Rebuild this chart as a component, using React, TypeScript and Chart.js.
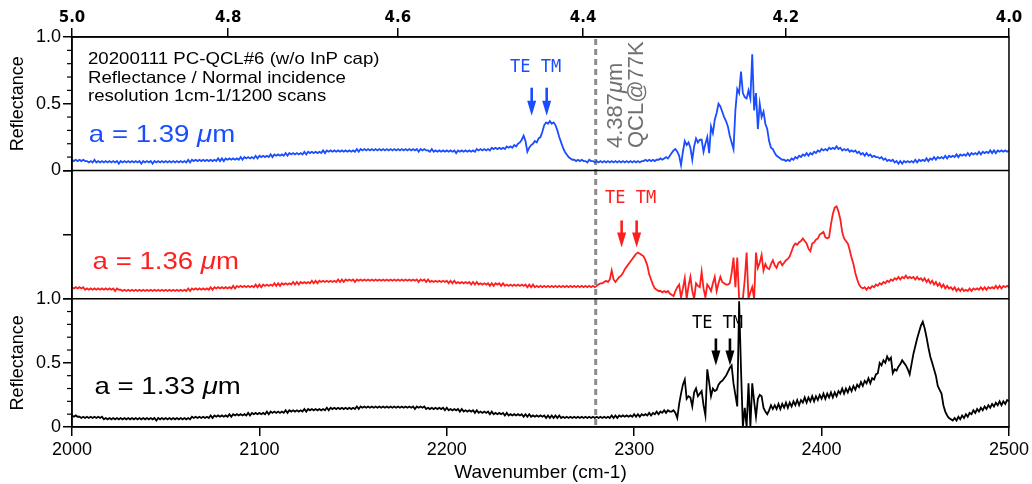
import React, { useEffect, useRef } from 'react';
import { Chart, registerables } from 'chart.js';

Chart.register(...registerables);

// Spectra sampled every 1 cm-1 from 2000 cm-1; values are reflectance in percent.
const WN_START = 2000;
const WN_STEP = 1;

// a = 1.39 um (top panel)
const REFL_139 = [
  8,7,8,7,8,7,8,7,7,6, 7,6,8,6,7,6,7,6,7,6, 7,6,7,6,7,5,7,6,7,6, 7,6,7,6,7,6,7,5,7,6,
  7,6,7,5,7,6,7,6,7,6, 7,6,7,6,7,6,7,6,7,6, 7,6,8,6,8,7,8,7,8,7, 8,7,8,7,8,7,8,7,9,7,
  9,7,9,8,9,8,9,8,9,8, 10,8,10,9,10,9,10,9,11,9, 11,10,11,10,11,10,12,10,12,11, 12,11,12,11,13,11,13,12,13,12,
  13,12,13,12,14,12,14,13,14,13, 14,13,14,13,15,13,15,14,15,14, 15,14,15,14,15,14,15,14,15,14, 15,14,16,14,16,15,16,15,16,15,
  16,15,16,15,16,15,16,15,16,15, 16,15,16,15,16,15,16,15,16,15, 16,15,16,15,16,14,16,15,16,15, 15,14,16,14,15,14,15,14,15,14,
  15,14,15,14,15,13,15,14,15,14, 15,14,15,14,15,14,16,15,16,15, 16,15,16,15,17,16,17,16,17,16, 17,16,18,17,18,17,19,18,20,21,
  23,26,22,14,17,19,20,22,21,24, 25,29,34,36,35,37,35,36,34,30, 25,21,17,14,12,10,9,8,8,7, 8,7,8,7,7,6,8,7,7,6,
  7,6,7,6,7,6,7,6,7,6, 7,6,7,6,7,6,7,6,7,6, 7,6,7,6,7,7,8,7,8,7, 8,7,8,8,9,8,9,10,9,11,
  13,15,16,14,11,4,14,22,19,21, 17,8,18,24,21,23,23,14,20,25, 13,33,28,38,43,50,48,44,40,37, 33,26,21,16,45,61,58,74,58,55,
  54,60,54,87,45,58,31,50,40,44, 35,31,22,17,16,13,11,10,9,8, 8,7,8,7,9,8,10,9,11,10, 12,11,13,11,13,12,14,13,15,14,
  16,15,16,15,17,16,17,16,18,16, 17,15,16,15,16,14,15,14,15,13, 14,12,13,11,13,11,12,10,11,10, 10,9,10,8,9,7,8,7,8,6,
  7,5,7,5,7,6,7,6,7,6, 8,6,8,7,8,7,9,7,9,8, 10,8,10,9,10,9,11,9,11,10, 11,10,12,10,12,11,12,11,13,11,
  13,12,13,12,14,12,14,13,14,13, 15,13,15,13,15,14,15,14,15,14, 15,
];

// a = 1.36 um (middle panel)
const REFL_136 = [
  9,8,9,8,9,8,9,7,8,7, 8,7,8,7,8,7,8,7,8,7, 8,7,8,6,8,7,7,6,7,6, 7,6,7,6,7,6,7,6,7,6,
  7,6,7,6,7,6,7,6,7,6, 7,6,7,6,7,6,7,6,7,6, 7,6,8,6,8,7,8,7,8,7, 8,7,8,7,9,7,9,8,9,8,
  9,8,9,8,9,8,10,8,10,9, 10,9,10,9,10,9,10,9,11,9, 11,9,11,10,11,10,11,10,12,10, 12,10,12,11,12,11,12,11,13,11,
  13,11,13,12,13,12,13,12,14,12, 14,12,14,13,14,13,14,13,14,13, 14,13,15,13,15,13,15,14,15,14, 15,13,15,14,15,14,15,14,15,14,
  15,14,15,14,15,14,15,14,15,14, 15,14,15,14,15,14,15,14,15,14, 15,14,15,14,15,13,15,14,15,13, 15,13,14,13,14,13,14,13,14,13,
  14,12,14,12,14,12,13,12,13,12, 13,12,13,11,13,11,13,11,12,11, 12,11,12,10,12,10,12,11,12,10, 12,10,11,10,11,10,11,10,11,10,
  11,10,11,9,11,9,11,9,10,9, 10,9,10,9,10,9,10,9,10,9, 10,9,10,9,10,9,10,9,10,9, 10,9,10,9,10,9,10,9,10,9,
  10,11,12,12,13,14,13,15,22,15, 13,15,17,18,20,23,25,27,29,31, 33,35,36,35,34,33,30,26,19,15, 11,8,7,6,6,5,6,5,6,4,
  3,2,6,9,11,1,8,16,0,10, 17,6,0,12,10,9,21,8,1,11, 9,6,12,17,6,12,17,13,12,11, 11,12,20,32,9,32,0,0,0,15,
  36,0,5,9,0,36,24,28,34,22, 27,24,23,27,30,26,24,28,29,26, 28,30,31,33,37,41,43,42,44,45, 47,45,43,39,37,43,44,46,47,50,
  51,52,48,47,48,58,66,71,72,68, 62,52,47,45,43,38,32,27,20,15, 11,9,8,9,7,9,8,10,9,11, 10,12,11,13,12,14,13,15,14,16,
  15,17,15,17,16,18,16,17,16,17, 15,17,15,16,14,16,13,15,12,14, 11,13,10,12,9,11,8,10,8,9, 7,9,6,8,6,8,6,7,6,8,
  6,8,7,8,7,9,7,9,7,9, 8,9,8,10,8,10,8,10,9,10, 9,
];

// a = 1.33 um (bottom panel)
const REFL_133 = [
  9,8,9,8,8,7,8,7,8,7, 8,7,8,7,8,7,8,6,7,6, 7,6,7,6,7,6,7,6,7,6, 7,6,7,6,7,6,7,6,7,6,
  7,6,7,6,7,5,7,6,7,6, 7,6,7,6,7,6,7,6,7,6, 7,6,7,6,8,7,8,7,8,7, 8,7,8,7,9,7,9,8,9,8,
  9,8,9,8,10,8,10,9,10,9, 10,9,10,9,11,9,11,10,11,10, 11,10,11,10,12,10,12,11,12,11, 12,11,12,11,13,11,13,12,13,12,
  13,12,13,12,14,12,14,13,14,13, 14,13,14,13,14,13,15,13,15,14, 15,14,15,14,15,14,15,14,15,14, 15,14,16,14,16,15,16,15,16,15,
  16,15,16,15,16,15,16,15,16,15, 16,15,16,15,16,15,16,15,16,15, 16,15,16,14,16,15,16,15,16,14, 15,14,15,14,15,14,15,14,15,13,
  15,13,14,13,14,13,14,12,14,12, 13,12,13,12,13,11,13,11,12,11, 12,11,12,10,12,10,11,10,11,10, 11,9,11,9,10,9,10,9,10,9,
  10,8,10,8,10,8,9,8,9,8, 9,8,9,7,9,7,9,7,9,7, 9,7,8,7,8,7,8,7,8,7, 8,7,8,7,8,7,8,7,8,7,
  8,7,8,7,8,7,8,7,9,7, 9,7,9,8,9,8,9,8,9,8, 10,8,10,8,10,9,10,9,11,9, 11,10,12,10,12,11,13,11,13,12,
  12,13,11,7,18,26,33,37,22,24, 23,16,27,30,24,26,28,17,9,45, 35,24,30,28,29,33,35,36,38,40, 43,46,48,34,25,16,98,45,0,15,
  0,34,0,34,20,8,22,25,24,15, 12,10,13,17,14,17,14,18,14,18, 15,19,15,19,16,20,17,21,17,21, 19,23,19,23,20,24,20,24,21,25,
  22,26,22,26,23,27,23,27,24,28, 26,30,26,30,27,31,28,32,29,33, 31,35,32,36,34,38,34,38,37,41, 42,50,48,52,50,55,52,54,42,45,
  44,47,49,52,50,48,45,41,49,57, 63,69,74,79,82,77,70,62,55,50, 45,40,32,29,26,17,12,9,7,6, 5,7,5,8,6,9,7,10,8,11,
  10,13,11,14,12,15,13,16,14,17, 15,18,16,19,17,20,17,20,18,21, 20,
];

// Top axis: wavelength in micrometres (lambda = 10000 / wavenumber)
const WAVELENGTH_TICKS = [5.0, 4.8, 4.6, 4.4, 4.2, 4.0];
const QCL_WAVELENGTH = 4.387;
const MINOR_TICKS = [0.1, 0.2, 0.3, 0.4, 0.6, 0.7, 0.8, 0.9];

const INFO_LINES = [
  '20200111 PC-QCL#6 (w/o InP cap)',
  'Reflectance / Normal incidence',
  'resolution 1cm-1/1200 scans',
];

const BLUE = '#1a4dff';
const RED = '#ff1e1e';
const BLACK = '#000000';
const GRAY_TEXT = '#707070';
const SANS = '"Liberation Sans", Arial, sans-serif';
const MONO = '"DejaVu Sans Mono", monospace';

type Part = [string, boolean];

const SERIES_NOTES: { axis: string; parts: Part[]; wn: number; v: number; color: string }[] = [
  { axis: 'yTop', parts: [['a = 1.39 ', false], ['\u03bc', true], ['m', false]], wn: 2009, v: 0.263, color: BLUE },
  { axis: 'yMid', parts: [['a = 1.36 ', false], ['\u03bc', true], ['m', false]], wn: 2011, v: 0.287, color: RED },
  { axis: 'yBot', parts: [['a = 1.33 ', false], ['\u03bc', true], ['m', false]], wn: 2012, v: 0.31, color: BLACK },
];

// TE / TM mode markers: label position and arrow wavenumbers, arrow top / tip in reflectance
const MODE_MARKS = [
  { axis: 'yTop', color: BLUE, labelWn: 2233.7, labelV: 0.77, arrows: [2245.3, 2253.3], top: 0.62, tip: 0.41 },
  { axis: 'yMid', color: RED, labelWn: 2284.4, labelV: 0.78, arrows: [2293.3, 2301.3], top: 0.61, tip: 0.4 },
  { axis: 'yBot', color: BLACK, labelWn: 2330.8, labelV: 0.81, arrows: [2343.6, 2351.1], top: 0.69, tip: 0.48 },
];

const toPoints = (pct: number[]) => pct.map((p, i) => ({ x: WN_START + i * WN_STEP, y: p / 100 }));

function drawRich(ctx: CanvasRenderingContext2D, parts: Part[], x: number, y: number, size: number, sx: number) {
  ctx.save();
  ctx.translate(x, y);
  ctx.scale(sx, 1);
  let cx = 0;
  for (const [t, italic] of parts) {
    ctx.font = `${italic ? 'italic ' : ''}${size}px ${SANS}`;
    ctx.fillText(t, cx, 0);
    cx += ctx.measureText(t).width;
  }
  ctx.restore();
}

const decor = {
  id: 'decor',
  beforeDatasetsDraw(chart: any) {
    const { ctx, chartArea, scales } = chart;
    const x = scales.x.getPixelForValue(10000 / QCL_WAVELENGTH);
    ctx.save();
    ctx.strokeStyle = '#8c8c8c';
    ctx.lineWidth = 3;
    ctx.setLineDash([6, 4]);
    ctx.beginPath();
    ctx.moveTo(x, chartArea.top + 2);
    ctx.lineTo(x, chartArea.bottom);
    ctx.stroke();
    ctx.restore();

    // rotated wavelength label beside the dashed line
    ctx.save();
    ctx.fillStyle = GRAY_TEXT;
    ctx.textBaseline = 'alphabetic';
    ctx.translate(x + 26, chartArea.top + 111);
    ctx.rotate(-Math.PI / 2);
    drawRich(ctx, [['4.387', false], ['\u03bc', true], ['m', false]], 0, 0, 22, 1);
    drawRich(ctx, [['QCL@77K', false]], 0, 21, 22, 1);
    ctx.restore();
  },
  afterDatasetsDraw(chart: any) {
    const { ctx, chartArea, scales } = chart;
    const { left, right, top, bottom } = chartArea;
    ctx.save();
    ctx.strokeStyle = '#000';
    ctx.lineWidth = 1.5;
    ctx.strokeRect(left, top, right - left, bottom - top);
    for (const y of [scales.yMid.top, scales.yMid.bottom]) {
      ctx.beginPath();
      ctx.moveTo(left, y);
      ctx.lineTo(right, y);
      ctx.stroke();
    }
    ctx.lineWidth = 1.2;
    for (const id of ['yTop', 'yBot']) {
      for (const v of MINOR_TICKS) {
        const y = scales[id].getPixelForValue(v);
        ctx.beginPath();
        ctx.moveTo(left - 5, y);
        ctx.lineTo(left, y);
        ctx.stroke();
      }
    }

    // sample description
    ctx.fillStyle = '#000';
    ctx.textBaseline = 'middle';
    const infoV = [0.835, 0.692, 0.556];
    INFO_LINES.forEach((line, i) => {
      drawRich(ctx, [[line, false]], scales.x.getPixelForValue(2008.5), scales.yTop.getPixelForValue(infoV[i]), 16.5, 1.13);
    });

    for (const n of SERIES_NOTES) {
      ctx.fillStyle = n.color;
      drawRich(ctx, n.parts, scales.x.getPixelForValue(n.wn), scales[n.axis].getPixelForValue(n.v), 24, 1.15);
    }

    for (const m of MODE_MARKS) {
      const ys = scales[m.axis];
      ctx.fillStyle = m.color;
      ctx.font = `17px ${MONO}`;
      ctx.textBaseline = 'middle';
      ctx.fillText('TE TM', scales.x.getPixelForValue(m.labelWn), ys.getPixelForValue(m.labelV));
      const y0 = ys.getPixelForValue(m.top);
      const y1 = ys.getPixelForValue(m.tip);
      for (const wn of m.arrows) {
        const ax = scales.x.getPixelForValue(wn);
        const headTop = y1 - 15;
        ctx.fillRect(ax - 1.3, y0, 2.6, headTop - y0 + 1);
        ctx.beginPath();
        ctx.moveTo(ax - 4.5, headTop);
        ctx.lineTo(ax + 4.5, headTop);
        ctx.lineTo(ax, y1);
        ctx.closePath();
        ctx.fill();
      }
    }
    ctx.restore();
  },
};

const tickGrid = { drawOnChartArea: false, drawTicks: true, tickLength: 9, color: '#000', lineWidth: 1.5 };
const axisBorder = { display: true, color: '#000', width: 1.5 };

function panelAxis(weight: number, labelled: boolean) {
  return {
    type: 'linear' as const,
    position: 'left' as const,
    stack: 'panels',
    stackWeight: weight,
    min: 0,
    max: 1,
    afterFit: (s: any) => {
      s.width = 72;
    },
    ticks: {
      stepSize: 0.5,
      color: '#000',
      padding: 2,
      font: { family: SANS, size: 18 },
      callback: (v: any) => (labelled ? (v === 0 ? '0' : Number(v).toFixed(1)) : ''),
    },
    grid: tickGrid,
    border: axisBorder,
    title: {
      display: labelled,
      text: 'Reflectance',
      color: '#000',
      font: { family: SANS, size: 18 },
      padding: { top: 7, bottom: 0 },
    },
  };
}

export default function App() {
  const ref = useRef<HTMLCanvasElement>(null);

  useEffect(() => {
    const chart = new Chart(ref.current as HTMLCanvasElement, {
      type: 'line',
      data: {
        datasets: [
          { data: toPoints(REFL_139), borderColor: BLUE, xAxisID: 'x', yAxisID: 'yTop' },
          { data: toPoints(REFL_136), borderColor: RED, xAxisID: 'x', yAxisID: 'yMid' },
          { data: toPoints(REFL_133), borderColor: BLACK, xAxisID: 'x', yAxisID: 'yBot' },
        ],
      },
      options: {
        animation: false,
        responsive: true,
        maintainAspectRatio: false,
        events: [],
        layout: { padding: { left: 0, right: 23, top: 0, bottom: 0 } },
        elements: { point: { radius: 0 }, line: { borderWidth: 1.8, tension: 0 } },
        plugins: { legend: { display: false }, tooltip: { enabled: false } },
        scales: {
          x: {
            type: 'linear',
            position: 'bottom',
            min: 2000,
            max: 2500,
            afterFit: (s: any) => {
              s.height = 57;
            },
            ticks: {
              stepSize: 100,
              color: '#000',
              padding: 3,
              maxRotation: 0,
              font: { family: SANS, size: 18 },
              callback: (v: any) => String(v),
            },
            grid: tickGrid,
            border: axisBorder,
            title: {
              display: true,
              text: 'Wavenumber (cm-1)',
              color: '#000',
              font: { family: SANS, size: 19 },
              padding: { top: 0, bottom: 0 },
            },
          },
          xTop: {
            type: 'linear',
            axis: 'x',
            position: 'top',
            min: 2000,
            max: 2500,
            afterFit: (s: any) => {
              s.height = 37;
            },
            afterBuildTicks: (s: any) => {
              s.ticks = WAVELENGTH_TICKS.map((l) => ({ value: 10000 / l }));
            },
            ticks: {
              color: '#000',
              padding: 1,
              maxRotation: 0,
              autoSkip: false,
              font: { family: '"DejaVu Sans", sans-serif', size: 15, weight: 'bold' },
              callback: (v: any) => (10000 / Number(v)).toFixed(1),
            },
            grid: tickGrid,
            border: axisBorder,
          },
          yBot: panelAxis(1, true),
          yMid: panelAxis(1, false),
          yTop: panelAxis(1.04, true),
        } as any,
      },
      plugins: [decor],
    });
    return () => chart.destroy();
  }, []);

  return (
    <div style={{ position: 'absolute', left: 0, top: 0, width: 1032, height: 484, background: '#fff' }}>
      <canvas ref={ref} />
    </div>
  );
}
